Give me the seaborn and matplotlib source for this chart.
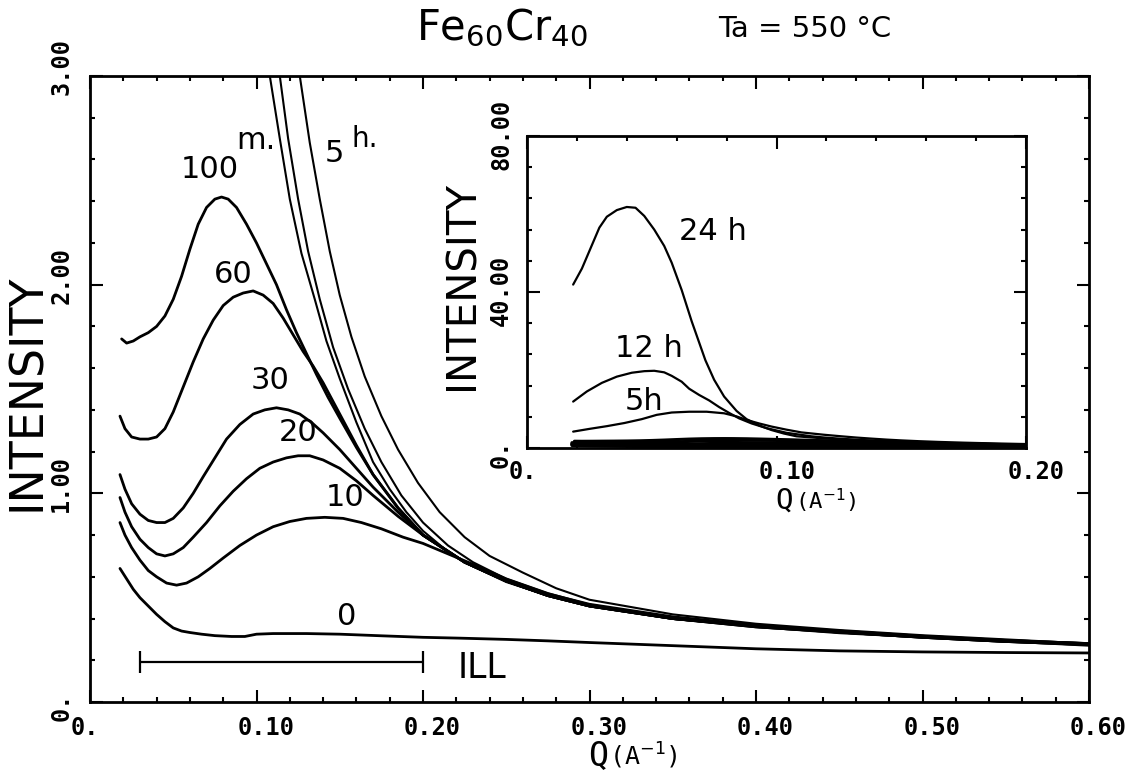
import numpy as np
import pandas as pd
import matplotlib
matplotlib.use("Agg")
import matplotlib.pyplot as plt
import matplotlib.transforms as mtransforms
from matplotlib.ticker import FixedLocator, FixedFormatter, MultipleLocator
import seaborn as sns

# ---------------- data ----------------
# annealing times in minutes (main panel, peaked curves)
q_0 = [0.018, 0.022, 0.026, 0.030, 0.035, 0.040, 0.045, 0.050, 0.055, 0.060, 0.067, 0.075, 0.085, 0.093,
       0.100, 0.110, 0.130, 0.150, 0.176, 0.200, 0.222, 0.250, 0.275, 0.300, 0.350, 0.400, 0.450, 0.500, 0.550, 0.600]
i_0 = [0.64, 0.59, 0.54, 0.50, 0.46, 0.42, 0.385, 0.355, 0.34, 0.333, 0.325, 0.318, 0.314, 0.314,
       0.325, 0.328, 0.328, 0.325, 0.317, 0.31, 0.306, 0.30, 0.293, 0.285, 0.27, 0.255, 0.245, 0.24, 0.237, 0.235]

q_10 = [0.018, 0.021, 0.025, 0.030, 0.035, 0.040, 0.046, 0.052, 0.058, 0.065, 0.072, 0.080, 0.090, 0.100, 0.110,
        0.120, 0.130, 0.141, 0.152, 0.163, 0.175, 0.188, 0.200, 0.215, 0.230, 0.250, 0.275, 0.300, 0.350, 0.400,
        0.450, 0.500, 0.550, 0.600]
i_10 = [0.86, 0.80, 0.74, 0.68, 0.63, 0.60, 0.57, 0.56, 0.57, 0.60, 0.64, 0.69, 0.75, 0.80, 0.84,
        0.865, 0.88, 0.885, 0.88, 0.86, 0.83, 0.79, 0.76, 0.71, 0.66, 0.59, 0.52, 0.465, 0.40, 0.36,
        0.335, 0.31, 0.29, 0.275]

q_20 = [0.018, 0.021, 0.025, 0.030, 0.035, 0.040, 0.045, 0.050, 0.056, 0.062, 0.070, 0.078, 0.086, 0.094, 0.102,
        0.110, 0.118, 0.125, 0.132, 0.140, 0.150, 0.160, 0.170, 0.185, 0.200, 0.225, 0.250, 0.275, 0.300, 0.350,
        0.400, 0.450, 0.500, 0.550, 0.600]
i_20 = [0.98, 0.91, 0.84, 0.78, 0.74, 0.71, 0.70, 0.71, 0.74, 0.79, 0.86, 0.94, 1.01, 1.07, 1.12,
        1.15, 1.17, 1.18, 1.18, 1.16, 1.12, 1.06, 0.99, 0.89, 0.80, 0.67, 0.58, 0.51, 0.46, 0.40,
        0.36, 0.335, 0.31, 0.29, 0.275]

q_30 = [0.018, 0.021, 0.025, 0.030, 0.035, 0.040, 0.045, 0.050, 0.056, 0.062, 0.068, 0.075, 0.082, 0.090, 0.098,
        0.105, 0.112, 0.119, 0.126, 0.133, 0.140, 0.150, 0.160, 0.170, 0.185, 0.200, 0.225, 0.250, 0.275, 0.300,
        0.350, 0.400, 0.450, 0.500, 0.550, 0.600]
i_30 = [1.09, 1.02, 0.95, 0.90, 0.87, 0.86, 0.86, 0.88, 0.93, 1.00, 1.08, 1.17, 1.26, 1.33, 1.38,
        1.40, 1.41, 1.40, 1.38, 1.34, 1.29, 1.21, 1.12, 1.03, 0.91, 0.80, 0.67, 0.58, 0.51, 0.46,
        0.40, 0.365, 0.335, 0.31, 0.29, 0.28]

q_60 = [0.018, 0.021, 0.025, 0.030, 0.035, 0.040, 0.045, 0.050, 0.056, 0.062, 0.068, 0.074, 0.080, 0.086, 0.092,
        0.098, 0.104, 0.110, 0.116, 0.122, 0.128, 0.134, 0.140, 0.150, 0.160, 0.170, 0.185, 0.200, 0.225, 0.250,
        0.275, 0.300, 0.350, 0.400, 0.450, 0.500, 0.550, 0.600]
i_60 = [1.37, 1.31, 1.27, 1.26, 1.26, 1.27, 1.31, 1.39, 1.51, 1.63, 1.74, 1.83, 1.90, 1.94, 1.96,
        1.97, 1.95, 1.91, 1.84, 1.76, 1.68, 1.61, 1.53, 1.38, 1.23, 1.09, 0.93, 0.80, 0.67, 0.58,
        0.51, 0.46, 0.40, 0.365, 0.34, 0.315, 0.295, 0.28]

q_100 = [0.019, 0.022, 0.026, 0.030, 0.035, 0.040, 0.045, 0.050, 0.055, 0.060, 0.065, 0.070, 0.075, 0.079,
         0.083, 0.088, 0.094, 0.100, 0.106, 0.112, 0.118, 0.124, 0.130, 0.136, 0.143, 0.150, 0.160, 0.170,
         0.185, 0.200, 0.225, 0.250, 0.275, 0.300, 0.350, 0.400, 0.450, 0.500, 0.550, 0.600]
i_100 = [1.74, 1.72, 1.73, 1.75, 1.77, 1.80, 1.85, 1.93, 2.04, 2.17, 2.29, 2.37, 2.41, 2.42,
         2.41, 2.37, 2.29, 2.20, 2.10, 2.00, 1.88, 1.77, 1.67, 1.57, 1.46, 1.36, 1.22, 1.09,
         0.93, 0.80, 0.67, 0.58, 0.51, 0.46, 0.40, 0.365, 0.34, 0.315, 0.295, 0.28]

# annealing times in hours (off-scale in main panel, shown in the inset)
q_5h = [0.0185, 0.025, 0.032, 0.039, 0.046, 0.052, 0.058, 0.065, 0.072, 0.079, 0.084, 0.088, 0.093, 0.098,
        0.104, 0.110, 0.119, 0.126, 0.132, 0.138, 0.144, 0.150, 0.157, 0.165, 0.175, 0.185, 0.197, 0.210,
        0.225, 0.240, 0.260, 0.280, 0.300, 0.350, 0.400, 0.450, 0.500, 0.550, 0.600]
i_5h = [4.2, 4.9, 5.6, 6.4, 7.4, 8.5, 9.1, 9.3, 9.3, 8.9, 8.1, 7.2, 6.3, 5.5,
        4.7, 4.0, 3.4, 3.0, 2.68, 2.41, 2.16, 1.95, 1.75, 1.56, 1.37, 1.21, 1.05, 0.91,
        0.79, 0.70, 0.62, 0.545, 0.49, 0.42, 0.375, 0.345, 0.32, 0.30, 0.28]

q_12h = [0.0185, 0.024, 0.030, 0.036, 0.042, 0.047, 0.051, 0.055, 0.058, 0.062, 0.065, 0.069, 0.073, 0.077,
         0.081, 0.085, 0.090, 0.096, 0.104, 0.114, 0.119, 0.125, 0.131, 0.138, 0.146, 0.155, 0.165, 0.175,
         0.187, 0.200, 0.215, 0.230, 0.250, 0.275, 0.300, 0.350, 0.400, 0.450, 0.500, 0.550, 0.600]
i_12h = [11.9, 14.5, 16.7, 18.3, 19.3, 19.7, 19.8, 19.4, 18.5, 17.0, 15.2, 13.6, 12.2, 10.5,
         9.0, 7.6, 6.3, 5.1, 3.9, 3.0, 2.7, 2.41, 2.16, 1.93, 1.70, 1.50, 1.31, 1.15,
         0.99, 0.86, 0.75, 0.67, 0.59, 0.52, 0.47, 0.41, 0.37, 0.34, 0.31, 0.29, 0.28]

q_24h = [0.0185, 0.022, 0.026, 0.029, 0.032, 0.036, 0.040, 0.0435, 0.047, 0.051, 0.055, 0.058, 0.062, 0.066,
         0.0715, 0.075, 0.079, 0.084, 0.088, 0.093, 0.098, 0.103, 0.108, 0.114, 0.120, 0.127, 0.135, 0.142,
         0.150, 0.160, 0.170, 0.180, 0.190, 0.200, 0.215, 0.230, 0.250, 0.275, 0.300, 0.350, 0.400, 0.450,
         0.500, 0.550, 0.600]
i_24h = [41.9, 46.0, 52.0, 56.5, 59.3, 61.0, 61.8, 61.6, 59.5, 56.0, 51.8, 47.5, 40.5, 32.5,
         22.5, 17.5, 13.2, 9.5, 7.4, 5.8, 4.6, 3.7, 3.0, 2.7, 2.41, 2.15, 1.93, 1.73,
         1.55, 1.34, 1.15, 1.02, 0.91, 0.82, 0.72, 0.65, 0.575, 0.51, 0.46, 0.40, 0.36, 0.33,
         0.31, 0.29, 0.27]

minute_series = ["0", "10", "20", "30", "60", "100"]
hour_series = ["5 h", "12 h", "24 h"]

main_x_ticks = [0.0, 0.1, 0.2, 0.3, 0.4, 0.5, 0.6]
main_x_ticklabels = ["0.", "0.10", "0.20", "0.30", "0.40", "0.50", "0.60"]
main_y_ticks = [0.0, 1.0, 2.0, 3.0]
main_y_ticklabels = ["0.", "1.00", "2.00", "3.00"]
inset_x_ticks = [0.0, 0.1, 0.2]
inset_x_ticklabels = ["0.", "0.10", "0.20"]
inset_y_ticks = [0.0, 40.0, 80.0]
inset_y_ticklabels = ["0.", "40.00", "80.00"]

ill_range = [0.03, 0.20]
ill_level = 0.19

# ---------------- long-form table ----------------
series = {
    "0": (q_0, i_0), "10": (q_10, i_10), "20": (q_20, i_20), "30": (q_30, i_30),
    "60": (q_60, i_60), "100": (q_100, i_100),
    "5 h": (q_5h, i_5h), "12 h": (q_12h, i_12h), "24 h": (q_24h, i_24h),
}
rows = []
for name, (qq, ii) in series.items():
    for a, b in zip(qq, ii):
        rows.append((name, a, b))
df = pd.DataFrame(rows, columns=["series", "Q", "I"])

# ---------------- style ----------------
sns.set_theme(style="ticks")
plt.rcParams["font.family"] = ["DejaVu Sans"]
plt.rcParams["mathtext.fontset"] = "dejavusans"
plt.rcParams["axes.edgecolor"] = "black"
plt.rcParams["xtick.color"] = "black"
plt.rcParams["ytick.color"] = "black"
plt.rcParams["text.color"] = "black"

DPI = 100
fig = plt.figure(figsize=(11.37, 7.76), dpi=DPI)
W, H = 1137.0, 776.0

ax = fig.add_axes([90 / W, 1 - 702 / H, (1089 - 90) / W, (702 - 76) / H])
axi = fig.add_axes([527 / W, 1 - 448 / H, (1026 - 527) / W, (448 - 136) / H])
axi.set_facecolor("white")

tick_family = "DejaVu Sans Mono"
tick_size = 17

# ---------------- main panel ----------------
for name in minute_series:
    sns.lineplot(data=df[df.series == name], x="Q", y="I", ax=ax, color="black",
                 linewidth=2.0, estimator=None, sort=False, legend=False)
for name in hour_series:
    sns.lineplot(data=df[df.series == name], x="Q", y="I", ax=ax, color="black",
                 linewidth=1.5, estimator=None, sort=False, legend=False)

ax.errorbar([(ill_range[0] + ill_range[1]) / 2], [ill_level],
            xerr=[(ill_range[1] - ill_range[0]) / 2], fmt="none", ecolor="black",
            elinewidth=1.6, capsize=8, capthick=1.6)
ax.text(0.221, 0.165, "ILL", ha="left", va="center", fontsize=25)

ax.set_xlim(0, 0.6)
ax.set_ylim(0, 3.0)
ax.set_xlabel("")
ax.set_ylabel("")

curve_labels = [
    ("100", 0.072, 2.55, 22), ("m.", 0.0997, 2.69, 22), ("5", 0.147, 2.63, 22),
    ("h.", 0.165, 2.70, 20), ("60", 0.086, 2.05, 22), ("30", 0.108, 1.54, 22),
    ("20", 0.125, 1.29, 22), ("10", 0.153, 0.98, 22), ("0", 0.154, 0.41, 22),
]
for txt, x, y, fs in curve_labels:
    ax.text(x, y, txt, ha="center", va="center", fontsize=fs)

# ---------------- inset ----------------
for name in hour_series:
    sns.lineplot(data=df[df.series == name], x="Q", y="I", ax=axi, color="black",
                 linewidth=1.6, estimator=None, sort=False, legend=False)
for name in minute_series:
    sns.lineplot(data=df[df.series == name], x="Q", y="I", ax=axi, color="black",
                 linewidth=2.2, estimator=None, sort=False, legend=False)
axi.set_xlim(0, 0.2)
axi.set_ylim(0, 80)
axi.set_xlabel("")
axi.set_ylabel("")
for txt, x, y in [("24 h", 0.0745, 55.5), ("12 h", 0.049, 25.4), ("5h", 0.047, 11.8)]:
    axi.text(x, y, txt, ha="center", va="center", fontsize=22)


def style_axes(a, xt, xl, yt, yl, xminor, yminor, xpad, ypad):
    a.xaxis.set_major_locator(FixedLocator(xt))
    a.xaxis.set_major_formatter(FixedFormatter(xl))
    a.yaxis.set_major_locator(FixedLocator(yt))
    a.yaxis.set_major_formatter(FixedFormatter(yl))
    a.xaxis.set_minor_locator(MultipleLocator(xminor))
    a.yaxis.set_minor_locator(MultipleLocator(yminor))
    a.tick_params(which="both", direction="in", top=True, right=True, width=1.5, color="black")
    a.tick_params(which="major", length=9)
    a.tick_params(which="minor", length=3.5)
    a.tick_params(axis="x", pad=xpad)
    a.tick_params(axis="y", pad=ypad, labelrotation=90)
    for s in a.spines.values():
        s.set_visible(True)
        s.set_linewidth(2.0)
        s.set_color("black")
    a.grid(False)


style_axes(ax, main_x_ticks, main_x_ticklabels, main_y_ticks, main_y_ticklabels, 0.02, 0.2, 10, 12)
style_axes(axi, inset_x_ticks, inset_x_ticklabels, inset_y_ticks, inset_y_ticklabels, 0.02, 8, 9, 10)


def shift(lab, dx_px, dy_px):
    lab.set_transform(lab.get_transform() +
                      mtransforms.ScaledTranslation(dx_px / DPI, dy_px / DPI, fig.dpi_scale_trans))


for a, xoff, yoffs in [(ax, -19, [-19, -19, -19, -19]), (axi, -18, [-20, -34, -34])]:
    for lab in a.get_xticklabels():
        lab.set_family(tick_family)
        lab.set_fontweight("bold")
        lab.set_fontsize(tick_size)
        lab.set_ha("left")
        shift(lab, xoff, 0)
    for lab, yo in zip(a.get_yticklabels(), yoffs):
        lab.set_family(tick_family)
        lab.set_fontweight("bold")
        lab.set_fontsize(tick_size)
        lab.set_rotation(90)
        lab.set_ha("right")
        lab.set_va("bottom")
        shift(lab, 0, yo)

# ---------------- axis titles / headings ----------------
fig.text(28 / W, 1 - 392 / H, "INTENSITY", rotation=90, ha="center", va="center", fontsize=33)
fig.text(463 / W, 1 - 285 / H, "INTENSITY", rotation=90, ha="center", va="center", fontsize=29)

fig.text(588 / W, 1 - 766 / H, "Q", family="DejaVu Sans Mono", fontsize=24, ha="left", va="baseline")
fig.text(609 / W, 1 - 765 / H, "(A$^{-1}$)", family="DejaVu Sans Mono", fontsize=18, ha="left", va="baseline")
fig.text(775 / W, 1 - 509 / H, "Q", family="DejaVu Sans Mono", fontsize=21, ha="left", va="baseline")
fig.text(795 / W, 1 - 509 / H, "(A$^{-1}$)", family="DejaVu Sans Mono", fontsize=16, ha="left", va="baseline")

fig.text(416 / W, 1 - 40 / H, "Fe$_{60}$Cr$_{40}$", ha="left", va="baseline", fontsize=30)
fig.text(718 / W, 1 - 37 / H, "Ta = 550 °C", ha="left", va="baseline", fontsize=21)

fig.savefig("out.png", dpi=DPI, facecolor="white")
